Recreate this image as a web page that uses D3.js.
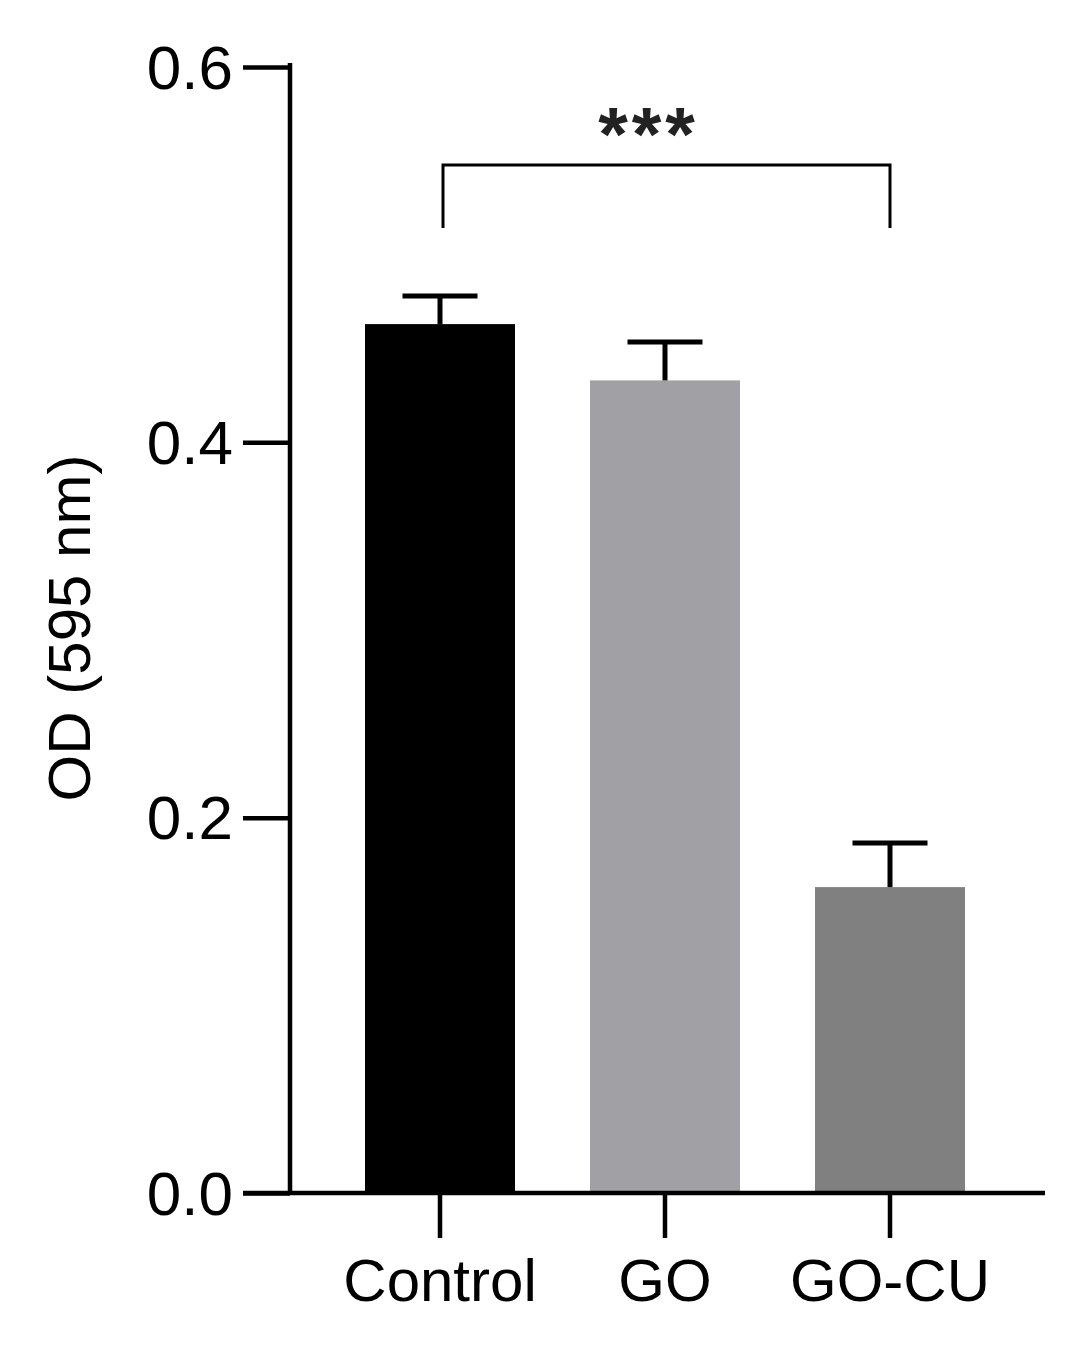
<!DOCTYPE html>
<html><head><meta charset="utf-8">
<script src="https://cdn.jsdelivr.net/npm/d3@7"></script>
<style>
html,body{margin:0;padding:0;background:#fff;}
svg{display:block;font-family:"Liberation Sans",Arial,sans-serif;}
</style></head>
<body>
<svg id="chart" width="1070" height="1350"></svg>
<script>
const categories = ["Control", "GO", "GO-CU"];
const means = [0.463, 0.433, 0.163];
const errors = [0.015, 0.0205, 0.0235];
const barColors = ["#000000", "#a1a1a5", "#808080"];
const yTicks = [0.0, 0.2, 0.4, 0.6];
const sigPair = ["Control", "GO-CU"];
const sigLabel = "***";
const yTitle = "OD (595 nm)";

const svg = d3.select("#chart");
const x = d3.scaleBand().domain(categories).range([290, 1040]).paddingInner(1/3).paddingOuter(1/3);
const y = d3.scaleLinear().domain([0, 0.6]).range([1193, 67]);

// bars
svg.selectAll("rect.bar").data(categories).join("rect")
  .attr("x", d => x(d)).attr("width", x.bandwidth())
  .attr("y", (d,i) => y(means[i])).attr("height", (d,i) => y(0) - y(means[i]))
  .attr("fill", (d,i) => barColors[i]);

// error bars (upper only)
const capHalf = x.bandwidth() / 4;
categories.forEach((c, i) => {
  const cx = x(c) + x.bandwidth()/2;
  svg.append("line").attr("x1", cx).attr("x2", cx)
    .attr("y1", y(means[i])).attr("y2", y(means[i] + errors[i]))
    .attr("stroke", "#000").attr("stroke-width", 5);
  svg.append("line").attr("x1", cx - capHalf).attr("x2", cx + capHalf)
    .attr("y1", y(means[i] + errors[i])).attr("y2", y(means[i] + errors[i]))
    .attr("stroke", "#000").attr("stroke-width", 5);
});

// y axis
const yAxis = d3.axisLeft(y).tickValues(yTicks).tickFormat(d3.format(".1f")).tickSize(47).tickPadding(10);
const gy = svg.append("g").attr("transform", "translate(290,0)").call(yAxis);
gy.select(".domain").attr("stroke-width", 4.5).attr("d", `M0,${y(0.6)-4}V${y(0)}`);
gy.selectAll(".tick line").attr("stroke-width", 4.5);
gy.selectAll(".tick text").attr("font-size", 62).attr("fill", "#000")
  .attr("font-family", "Liberation Sans, Arial, sans-serif").attr("dy", "0.34em");

// x axis
const xAxis = d3.axisBottom(x).tickSize(45).tickPadding(20);
const gx = svg.append("g").attr("transform", `translate(0,${y(0)})`).call(xAxis);
gx.select(".domain").attr("stroke-width", 4.5).attr("d", "M243,0H1045");
gx.selectAll(".tick line").attr("stroke-width", 4.5);
gx.selectAll(".tick text").attr("font-size", 60).attr("fill", "#000")
  .attr("font-family", "Liberation Sans, Arial, sans-serif");

// y title
svg.append("text").attr("transform", "translate(90,628) rotate(-90)")
  .attr("text-anchor", "middle").attr("font-size", 60).attr("fill", "#000").text(yTitle);

// significance bracket
const bx1 = x(sigPair[0]) + x.bandwidth()/2 + 3;
const bx2 = x(sigPair[1]) + x.bandwidth()/2;
svg.append("path").attr("d", `M${bx1},228V165H${bx2}V228`)
  .attr("fill", "none").attr("stroke", "#000").attr("stroke-width", 3);
svg.append("text").attr("x", (bx1 + bx2)/2 - 18).attr("y", 160)
  .attr("text-anchor", "middle").attr("font-size", 76).attr("font-weight", "bold")
  .attr("letter-spacing", 4).attr("fill", "#222").text(sigLabel);
</script>
</body></html>
